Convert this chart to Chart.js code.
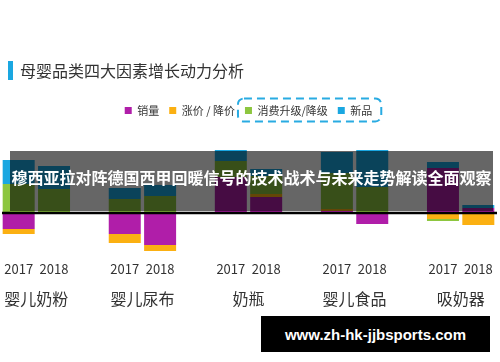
<!DOCTYPE html>
<html>
<head>
<meta charset="utf-8">
<script src="https://cdn.jsdelivr.net/npm/chart.js@4.4.1/dist/chart.umd.min.js"></script>
<style>
  html, body { margin: 0; padding: 0; background: #fff; }
  #wrap { position: relative; width: 500px; height: 362px; overflow: hidden; font-family: "Noto Sans CJK SC", "Noto Sans", sans-serif; }
  #c { position: absolute; left: 0; top: 0; }
  #titlebar { position: absolute; left: 8px; top: 61px; width: 5px; height: 19px; background: #1aa7e1; }
  #title { position: absolute; left: 20px; top: 60px; font-size: 16px; line-height: 21px; color: #333; }
  #banner { position: absolute; left: 10px; top: 151px; width: 483px; height: 60px; background: rgba(0,0,0,0.6);
            color: #fff; font-weight: bold; font-size: 16px; line-height: 20px; display: flex; align-items: center; justify-content: center; padding-bottom: 8px; box-sizing: border-box; white-space: nowrap; }
  #mark { position: absolute; left: 261px; top: 316px; width: 229px; height: 36px; background: #000; color: #fff;
          font-family: "Liberation Sans", Arial, sans-serif; font-weight: bold; font-size: 15px; display: flex; align-items: center; justify-content: center; }
</style>
</head>
<body>
<div id="wrap">
  <canvas id="c" width="500" height="362"></canvas>
  <div id="titlebar"></div>
  <div id="title">母婴品类四大因素增长动力分析</div>
  <div id="banner">穆西亚拉对阵德国西甲回暖信号的技术战术与未来走势解读全面观察</div>
  <div id="mark">www.zh-hk-jjbsports.com</div>
</div>
<script>
const categories = ['婴儿奶粉', '婴儿尿布', '奶瓶', '婴儿食品', '吸奶器'];
const years = ['2017', '2018'];
const seriesNames = ['销量', '涨价 / 降价', '消费升级/降级', '新品'];
const sales    = [-16, 0, -21, -32, 36, 16, 2, -11, 45, 5];
const price    = [-5, 0, -9, -6, 0, 3, 2, 0, -6, -12];
const upgrade  = [29, 24, 14, 17, 16, 18, 36, 26, -2, 0];
const newItems = [24, 23, 11, 11, 11, 7, 21, 37, 6, 3];
const colors = ['#b01ea9', '#fbb012', '#8dc63f', '#1aa7e1'];

// build slots: two years per category, with an empty slot between categories
const slotLabels = [];
const slotIndex = [];
categories.forEach((c, ci) => {
  years.forEach((y, yi) => { slotLabels.push(y); slotIndex.push(ci * 2 + yi); });
  if (ci < categories.length - 1) { slotLabels.push(''); slotIndex.push(-1); }
});
const toSlots = arr => slotIndex.map(i => (i < 0 ? null : arr[i]));
const allSeries = [sales, price, upgrade, newItems];

const zeroLine = {
  id: 'zeroLine',
  afterDatasetsDraw(chart) {
    const { ctx, chartArea, scales } = chart;
    const y = scales.y.getPixelForValue(0);
    ctx.save();
    ctx.strokeStyle = '#000';
    ctx.lineWidth = 2.5;
    ctx.beginPath();
    ctx.moveTo(chartArea.left + 1, y);
    ctx.lineTo(chartArea.right + 1, y);
    ctx.stroke();
    ctx.restore();
  }
};

const dashedBox = {
  id: 'dashedBox',
  afterDraw(chart) {
    const lg = chart.legend;
    if (!lg || !lg.legendHitBoxes || lg.legendHitBoxes.length < 4) return;
    const a = lg.legendHitBoxes[2], b = lg.legendHitBoxes[3];
    const x0 = a.left - 7, x1 = b.left + b.width + 9;
    const cy = a.top + a.height / 2;
    const y0 = cy - 12, y1 = cy + 11;
    const r = 6;
    const ctx = chart.ctx;
    ctx.save();
    ctx.strokeStyle = '#29abe2';
    ctx.lineWidth = 2;
    ctx.setLineDash([8, 5]);
    ctx.beginPath();
    ctx.moveTo(x0 + r, y0);
    ctx.lineTo(x1 - r, y0);
    ctx.arcTo(x1, y0, x1, y0 + r, r);
    ctx.lineTo(x1, y1 - r);
    ctx.arcTo(x1, y1, x1 - r, y1, r);
    ctx.lineTo(x0 + r, y1);
    ctx.arcTo(x0, y1, x0, y1 - r, r);
    ctx.lineTo(x0, y0 + r);
    ctx.arcTo(x0, y0, x0 + r, y0, r);
    ctx.stroke();
    ctx.restore();
  }
};

new Chart(document.getElementById('c'), {
  type: 'bar',
  data: {
    labels: slotLabels,
    datasets: allSeries.map((s, i) => ({
      label: seriesNames[i],
      data: toSlots(s),
      backgroundColor: colors[i],
      borderWidth: 0,
      categoryPercentage: 1,
      barPercentage: 0.905
    }))
  },
  options: {
    responsive: false,
    animation: false,
    devicePixelRatio: 1,
    layout: { padding: { top: 95, left: 1, right: 4, bottom: 44 } },
    plugins: {
      legend: {
        position: 'top',
        labels: {
          boxWidth: 7, boxHeight: 7, padding: 10, color: '#333',
          font: { size: 11, family: '"Noto Sans CJK SC", sans-serif' }
        }
      },
      tooltip: { enabled: false },
      title: { display: false }
    },
    scales: {
      x: {
        stacked: true,
        grid: { display: false, drawTicks: false },
        border: { display: false },
        ticks: { color: '#333', padding: 3, autoSkip: false, maxRotation: 0,
                 font: { size: 13, family: '"Noto Sans CJK SC", sans-serif' } }
      },
      x2: {
        type: 'linear', axis: 'x', position: 'bottom', offset: false,
        min: -0.5, max: slotLabels.length - 0.5,
        grid: { display: false, drawTicks: false, offset: false },
        border: { display: false },
        afterBuildTicks: axis => { axis.ticks = categories.map((c, i) => ({ value: i * 3 + 0.5 })); },
        ticks: { color: '#333', padding: 0, autoSkip: false, maxRotation: 0,
                 callback: v => categories[Math.round((v - 0.5) / 3)],
                 font: { size: 16, lineHeight: 2.4, family: '"Noto Sans CJK SC", sans-serif' } }
      },
      y: {
        stacked: true, display: false,
        min: -45, max: 87
      }
    }
  },
  plugins: [zeroLine, dashedBox]
});
</script>
</body>
</html>
